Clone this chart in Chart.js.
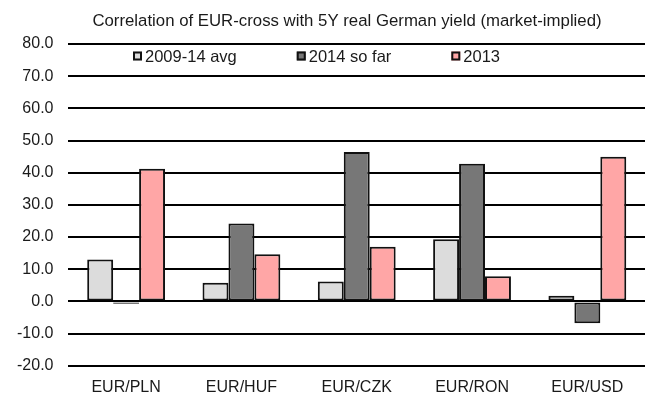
<!DOCTYPE html>
<html>
<head>
<meta charset="utf-8">
<script src="https://cdn.jsdelivr.net/npm/chart.js@4/dist/chart.umd.min.js"></script>
<style>
  html, body { margin: 0; padding: 0; background: #ffffff; }
  #wrap { width: 649px; height: 403px; position: relative; }
</style>
</head>
<body>
<div id="wrap"><canvas id="chart" width="649" height="403"></canvas></div>
<script>
// Currency crosses on the category axis
const categories = ['EUR/PLN', 'EUR/HUF', 'EUR/CZK', 'EUR/RON', 'EUR/USD'];

// Correlation values per period
const avg2009to14 = [13.0, 5.8, 6.2, 19.3, 1.8];
const soFar2014   = [-0.7, 24.2, 46.4, 42.8, -6.8];
const year2013    = [41.2, 14.7, 17.0, 7.8, 45.0];

// Series names
const seriesNames = ['2009-14 avg', '2014 so far', '2013'];

const chartTitle = 'Correlation of EUR-cross with 5Y real German yield (market-implied)';

const FONT = "'Liberation Sans', Arial, sans-serif";
const TEXT = '#1a1a1a';

// Title and in-plot legend row
const headerPlugin = {
  id: 'header',
  afterDraw(chart) {
    const ctx = chart.ctx;
    ctx.save();
    ctx.fillStyle = TEXT;
    ctx.font = '16.8px ' + FONT;
    ctx.textAlign = 'center';
    ctx.textBaseline = 'middle';
    ctx.fillText(chartTitle, 347, 21);

    ctx.font = '16.5px ' + FONT;
    ctx.textAlign = 'left';
    let x = 133;
    const y = 56;
    chart.data.datasets.forEach(ds => {
      ctx.fillStyle = ds.backgroundColor;
      ctx.fillRect(x, y - 4.5, 9, 9);
      ctx.strokeStyle = '#111';
      ctx.lineWidth = 2;
      ctx.strokeRect(x + 1, y - 3.5, 7, 7);
      ctx.fillStyle = TEXT;
      ctx.fillText(ds.label, x + 12, y + 1);
      x += 12 + ctx.measureText(ds.label).width + 60;
    });
    ctx.restore();
  }
};

const barStyle = { borderColor: '#111', borderWidth: 2, borderSkipped: false };

new Chart(document.getElementById('chart'), {
  type: 'bar',
  data: {
    labels: categories,
    datasets: [
      Object.assign({ label: seriesNames[0], data: avg2009to14, backgroundColor: '#dcdcdc' }, barStyle),
      Object.assign({ label: seriesNames[1], data: soFar2014, backgroundColor: '#777777' }, barStyle),
      Object.assign({ label: seriesNames[2], data: year2013, backgroundColor: '#ffa6a6' }, barStyle)
    ]
  },
  options: {
    responsive: false,
    animation: false,
    devicePixelRatio: 1,
    datasets: { bar: { categoryPercentage: 0.675, barPercentage: 1.0 } },
    layout: { padding: { top: 44, right: 4, left: 2, bottom: -6 } },
    plugins: {
      legend: { display: false },
      title: { display: false },
      tooltip: { enabled: false }
    },
    scales: {
      x: {
        grid: { display: false, drawTicks: false },
        border: { display: false },
        ticks: { color: TEXT, font: { family: FONT, size: 16 }, padding: 12 }
      },
      y: {
        min: -20,
        max: 80,
        grid: { color: '#000', lineWidth: 2, drawTicks: false },
        border: { display: false },
        ticks: {
          stepSize: 10,
          color: TEXT,
          font: { family: FONT, size: 16 },
          padding: 15,
          callback: v => Number(v).toFixed(1)
        }
      }
    }
  },
  plugins: [headerPlugin]
});
</script>
</body>
</html>
